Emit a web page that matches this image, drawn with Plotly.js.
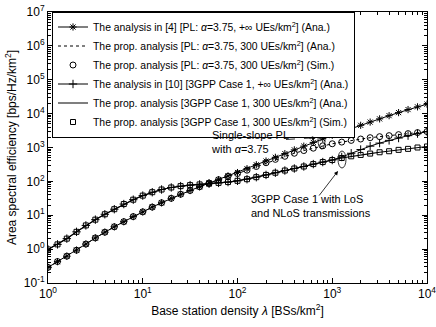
<!DOCTYPE html>
<html>
<head>
<meta charset="utf-8">
<script src="https://cdn.plot.ly/plotly-3.0.1.min.js"></script>
<style>
  html, body { margin: 0; padding: 0; background: #fff; }
  #chart { width: 436px; height: 327px; }
</style>
</head>
<body>
<div id="chart"></div>
<script>
// BS density points (10 per decade), BSs/km^2
const lambdaBS = [1, 1.26, 1.58, 2, 2.51, 3.16, 3.98, 5.01, 6.31, 7.94,
  10, 12.6, 15.8, 20, 25.1, 31.6, 39.8, 50.1, 63.1, 79.4,
  100, 126, 158, 200, 251, 316, 398, 501, 631, 794,
  1000, 1259, 1585, 1995, 2512, 3162, 3981, 5012, 6310, 7943, 10000];

// ASE [bps/Hz/km^2]
const plInf = [0.288, 0.427, 0.617, 0.933, 1.41, 2.14, 3.16, 4.57, 6.46, 9.12,
  12.6, 17.4, 23.4, 31.6, 41.7, 53.7, 69.2, 89.1, 112, 145,
  182, 237, 309, 398, 513, 661, 851, 1096, 1413, 1820,
  2291, 2884, 3631, 4519, 5623, 6998, 8710, 10715, 13183, 15849, 19055];

const pl300 = [0.288, 0.427, 0.617, 0.933, 1.41, 2.14, 3.16, 4.57, 6.46, 9.12,
  12.6, 17.4, 23.4, 31.6, 41.7, 53.7, 69.2, 89.1, 112, 141,
  170, 214, 275, 355, 447, 550, 676, 813, 955, 1122,
  1288, 1445, 1622, 1778, 1950, 2089, 2239, 2399, 2570, 2754, 2951];

const pl300Sim = [0.29, 0.43, 0.62, 0.93, 1.41, 2.14, 3.16, 4.57, 6.46, 9.12,
  12.6, 17.4, 23.4, 31.6, 41.7, 53.7, 69.2, 89.1, 112, 141,
  170, 214, 275, 355, 447, 550, 676, 813, 955, 1122,
  1288, 1445, 1622, 1778, 1950, 2089, 2239, 2399, 2570, 2754, 2951];

const g3Inf = [0.98, 1.38, 2.04, 3.24, 5.01, 7.41, 10.7, 15.1, 21.4, 28.8,
  38.0, 47.9, 57.5, 66.1, 72.4, 77.6, 81.3, 85.1, 90.2, 95.5,
  104, 116, 133, 155, 180, 209, 240, 275, 324, 372,
  427, 525, 676, 871, 1096, 1349, 1622, 1905, 2239, 2570, 2951];

const g3300 = [0.98, 1.38, 2.04, 3.24, 5.01, 7.41, 10.7, 15.1, 21.4, 28.8,
  38.0, 47.9, 57.5, 66.1, 72.4, 77.6, 81.3, 85.1, 90.2, 95.5,
  104, 116, 133, 155, 180, 209, 240, 275, 324, 372,
  427, 490, 550, 603, 661, 724, 776, 851, 912, 1000, 1072];

const g3300Sim = [0.98, 1.38, 2.04, 3.24, 5.01, 7.41, 10.7, 15.1, 21.4, 28.8,
  38.0, 47.9, 57.5, 66.1, 72.4, 77.6, 81.3, 85.1, 90.2, 95.5,
  104, 116, 133, 155, 180, 209, 240, 275, 324, 372,
  427, 490, 550, 603, 661, 724, 776, 851, 912, 1000, 1072];

const names = [
  'The analysis in [4] [PL: <i>α</i>=3.75, +∞ UEs/km<sup>2</sup>] (Ana.)',
  'The prop. analysis [PL: <i>α</i>=3.75, 300 UEs/km<sup>2</sup>] (Ana.)',
  'The prop. analysis [PL: <i>α</i>=3.75, 300 UEs/km<sup>2</sup>] (Sim.)',
  'The analysis in [10] [3GPP Case 1, +∞ UEs/km<sup>2</sup>] (Ana.)',
  'The prop. analysis [3GPP Case 1, 300 UEs/km<sup>2</sup>] (Ana.)',
  'The prop. analysis [3GPP Case 1, 300 UEs/km<sup>2</sup>] (Sim.)'
];

const xTicks = [1, 10, 100, 1000, 10000];
const xTickText = ['10<sup>0</sup>', '10<sup>1</sup>', '10<sup>2</sup>', '10<sup>3</sup>', '10<sup>4</sup>'];
const yTicks = [0.1, 1, 10, 100, 1e3, 1e4, 1e5, 1e6, 1e7];
const yTickText = ['10<sup>-1</sup>', '10<sup>0</sup>', '10<sup>1</sup>', '10<sup>2</sup>', '10<sup>3</sup>',
  '10<sup>4</sup>', '10<sup>5</sup>', '10<sup>6</sup>', '10<sup>7</sup>'];

// minor tick positions 2..9 per decade
function minorVals(lo, hi) {
  const v = [];
  for (let d = lo; d < hi; d++) for (let m = 2; m < 10; m++) v.push(m * Math.pow(10, d));
  return v;
}

// pixel -> paper helpers (plot area 48..427 x 12..283)
const px = x => (x - 48) / 379;
const py = y => (283 - y) / 271;

const black = '#000';
const traces = [
  { x: lambdaBS, y: plInf, name: names[0], mode: 'lines+markers',
    line: { color: black, width: 1 },
    marker: { symbol: 'asterisk-open', size: 6, color: black, line: { color: black, width: 1 } } },
  { x: lambdaBS, y: pl300, name: names[1], mode: 'lines',
    line: { color: black, width: 1, dash: 'dot' } },
  { x: lambdaBS, y: pl300Sim, name: names[2], mode: 'markers',
    marker: { symbol: 'circle-open', size: 6, color: black, line: { color: black, width: 1 } } },
  { x: lambdaBS, y: g3Inf, name: names[3], mode: 'lines+markers',
    line: { color: black, width: 1 },
    marker: { symbol: 'cross-thin-open', size: 6, color: black, line: { color: black, width: 1 } } },
  { x: lambdaBS, y: g3300, name: names[4], mode: 'lines',
    line: { color: black, width: 1.2 } },
  { x: lambdaBS, y: g3300Sim, name: names[5], mode: 'markers',
    marker: { symbol: 'square-open', size: 5, color: black, line: { color: black, width: 1 } } }
];

const axisBase = {
  type: 'log',
  showline: true, linecolor: black, linewidth: 1, mirror: 'allticks',
  ticks: 'inside', ticklen: 5, tickcolor: black,
  showgrid: false, zeroline: false,
  ticklabeloverflow: 'allow',
  tickfont: { family: 'Liberation Sans, Arial, sans-serif', size: 12, color: black },
};

const layout = {
  width: 436, height: 327,
  margin: { l: 48, r: 9, t: 12, b: 44 },
  paper_bgcolor: '#fff', plot_bgcolor: '#fff',
  font: { family: 'Liberation Sans, Arial, sans-serif', size: 11, color: black },
  showlegend: true,
  legend: {
    x: px(52), y: py(11.5), xanchor: 'left', yanchor: 'top',
    bgcolor: '#fff', bordercolor: black, borderwidth: 1,
    font: { size: 10.4, color: black },
    tracegroupgap: 0,
  },
  xaxis: {
    ...axisBase,
    range: [0, 4],
    tickmode: 'array', tickvals: xTicks, ticktext: xTickText,
    minor: { tickmode: 'array', tickvals: minorVals(0, 4), ticks: 'inside', ticklen: 3, tickcolor: black, showgrid: false },
    title: { text: 'Base station density <i>λ</i> [BSs/km<sup>2</sup>]', font: { size: 12, color: black }, standoff: 6 },
  },
  yaxis: {
    ...axisBase,
    range: [-1, 7],
    tickmode: 'array', tickvals: yTicks, ticktext: yTickText,
    minor: { tickmode: 'array', tickvals: minorVals(-1, 7), ticks: 'inside', ticklen: 3, tickcolor: black, showgrid: false },
    title: { text: 'Area spectral efficiency [bps/Hz/km<sup>2</sup>]', font: { size: 12, color: black }, standoff: 4 },
  },
  shapes: [
    // ellipses marking the two curve groups
    { type: 'circle', xref: 'paper', yref: 'paper', x0: px(318), x1: px(325), y0: py(149), y1: py(131),
      line: { color: black, width: 0.8 } },
    { type: 'circle', xref: 'paper', yref: 'paper', x0: px(338), x1: px(346), y0: py(168), y1: py(151),
      line: { color: black, width: 0.8 } },
    // dashed pointer for the PL group
    { type: 'line', xref: 'paper', yref: 'paper', x0: px(286), y0: py(139.5), x1: px(310), y1: py(138),
      line: { color: black, width: 0.8, dash: 'dash' } },
  ],
  annotations: [
    { xref: 'paper', yref: 'paper', x: px(209), y: py(141.5), xanchor: 'left', yanchor: 'middle',
      text: 'Single-slope PL<br>with <i>α</i>=3.75', showarrow: false, align: 'left',
      font: { size: 11, color: black } },
    { xref: 'paper', yref: 'paper', x: px(316), y: py(137.7), text: '', showarrow: true,
      arrowhead: 2, arrowsize: 1, arrowwidth: 0.8, arrowcolor: black, ax: -8, ay: 1 },
    { xref: 'paper', yref: 'paper', x: px(249), y: py(206.5), xanchor: 'left', yanchor: 'middle',
      text: '3GPP Case 1 with LoS<br>and NLoS transmissions', showarrow: false, align: 'left',
      font: { size: 11, color: black } },
    { xref: 'paper', yref: 'paper', x: px(338), y: py(171), text: '', showarrow: true,
      arrowhead: 2, arrowsize: 1, arrowwidth: 0.8, arrowcolor: black, ax: -20, ay: 26 },
  ],
};

Plotly.newPlot('chart', traces, layout, { displayModeBar: false, staticPlot: true });
</script>
</body>
</html>
